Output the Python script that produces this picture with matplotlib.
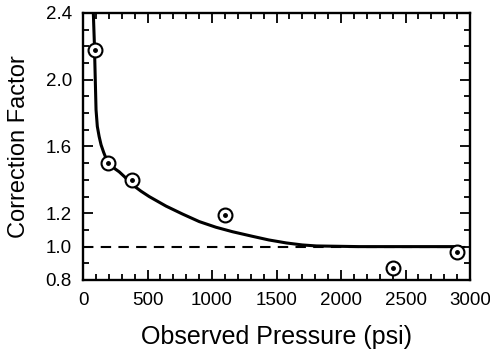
import numpy as np
import matplotlib
matplotlib.use('Agg')
import matplotlib.pyplot as plt
from matplotlib.ticker import MultipleLocator

# measured points
p_obs = [90, 190, 380, 1100, 2400, 2900]
cf_obs = [2.18, 1.50, 1.40, 1.19, 0.87, 0.97]

# fitted curve
p_fit = [80, 88, 101, 111, 125, 140, 160, 178, 215, 250, 281, 320, 384, 450, 513, 643, 772, 901, 1031, 1160, 1312, 1440, 1576, 1700, 1809, 2142, 2500, 2918]
cf_fit = [2.40, 2.22, 1.82, 1.72, 1.66, 1.61, 1.565, 1.53, 1.49, 1.465, 1.448, 1.42, 1.37, 1.332, 1.30, 1.243, 1.195, 1.15, 1.116, 1.089, 1.062, 1.04, 1.022, 1.01, 1.004, 1.0, 1.0, 1.0]

x_ticks = [0, 500, 1000, 1500, 2000, 2500, 3000]
y_ticks = [0.8, 1.0, 1.2, 1.6, 2.0, 2.4]

plt.rcParams['font.family'] = ['Liberation Sans', 'DejaVu Sans']

fig = plt.figure(figsize=(4.9, 3.58), dpi=100)
ax = fig.add_axes([0.1694, 0.2179, 0.7898, 0.7458])

ax.axhline(1.0, color='black', lw=1.5, ls=(0, (5, 3.5)), zorder=2)
ax.plot(p_fit, cf_fit, color='black', lw=2.2, zorder=3)
ax.plot(p_obs, cf_obs, 'o', mfc='white', mec='black', ms=10, mew=1.5, zorder=4)
ax.plot(p_obs, cf_obs, 'o', color='black', ms=2.5, zorder=5)

ax.set_xlim(0, 3000)
ax.set_ylim(0.8, 2.4)
ax.set_xticks(x_ticks)
ax.set_yticks(y_ticks)
ax.set_yticklabels(['%.1f' % v for v in y_ticks])
ax.xaxis.set_minor_locator(MultipleLocator(100))
ax.yaxis.set_minor_locator(MultipleLocator(0.1))

ax.tick_params(which='both', direction='in', top=True, right=True, width=1.3, labelsize=13.5)
ax.tick_params(which='major', length=7)
ax.tick_params(which='minor', length=4)
ax.tick_params(axis='x', pad=9)
ax.tick_params(axis='y', pad=8)
for s in ax.spines.values():
    s.set_linewidth(1.7)

ax.set_xlabel('Observed Pressure (psi)', fontsize=18, labelpad=11)
ax.set_ylabel('Correction Factor', fontsize=17, labelpad=11)

plt.savefig('out.png', dpi=100)
